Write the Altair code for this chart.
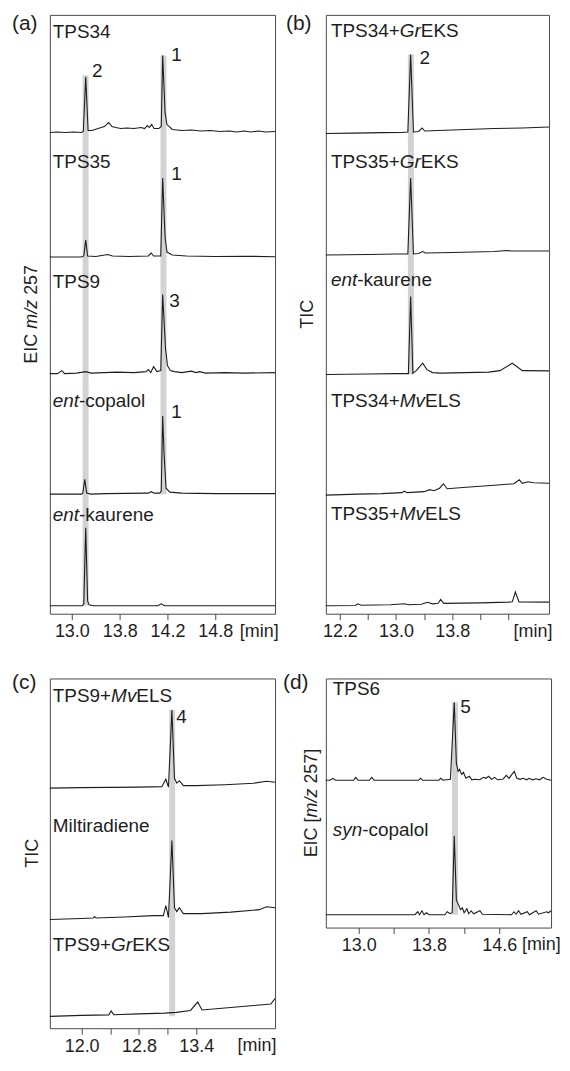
import altair as alt
import pandas as pd

# ---------------------------------------------------------------- data
# x values are positions on each panel's time axis, in tick units
# (tick k of a panel sits at x = k; its printed label is in the *_TICKS list)

# (a) EIC m/z 257
A_TICKS = ["13.0", "13.8", "14.2", "14.8"]
a_tps34 = [(-0.46, 0), (-0.3, 0.5), (-0.15, 0), (0.05, 0.5), (0.2, 0), (0.24, 1), (0.29, 56), (0.34, 2),
           (0.42, 2), (0.55, 4), (0.68, 6), (0.77, 10), (0.84, 6), (0.92, 5), (1.02, 4), (1.15, 4.5),
           (1.3, 4), (1.45, 5), (1.52, 4), (1.58, 7), (1.62, 5), (1.67, 8), (1.72, 4), (1.82, 4),
           (1.87, 6), (1.9, 78), (1.95, 20), (1.99, 8), (2.04, 6), (2.1, 3), (2.3, 2), (2.5, 2.5),
           (2.7, 1.5), (2.9, 2), (3.1, 1), (3.3, 1.5), (3.45, 0.5), (3.6, 1.5), (3.75, 0.5), (3.9, 1.5),
           (4.05, 0.5), (4.25, 1)]
a_tps35 = [(-0.46, 0), (0.0, 0), (0.2, 0), (0.25, 1), (0.29, 17), (0.33, 1), (0.5, 0.5), (0.75, 2.5),
           (0.85, 1), (1.2, 0.5), (1.6, 1), (1.66, 4), (1.71, 1), (1.86, 1), (1.9, 80), (1.95, 20),
           (1.99, 5), (2.1, 2), (2.4, 1), (3.0, 0.5), (3.6, 0.8), (4.25, 0.3)]
a_tps9 = [(-0.46, 0), (-0.3, 0), (-0.21, 3), (-0.15, 0), (0.1, 0.5), (0.29, 2), (0.4, 0.5), (0.94, 1.5),
          (1.3, 1), (1.55, 2), (1.6, 4), (1.65, 1), (1.71, 7), (1.78, 2), (1.86, 3), (1.9, 80),
          (1.96, 25), (2.0, 8), (2.06, 3), (2.15, 2), (2.3, 1), (2.5, 2.5), (2.6, 1), (2.67, 2),
          (2.8, 0.5), (3.2, 1), (3.6, 0.5), (4.25, 1)]
a_copalol = [(-0.46, 0), (0.2, 0), (0.23, 1), (0.27, 15), (0.31, 1), (0.4, 0), (0.7, 0.5), (1.6, 1),
             (1.66, 2.5), (1.72, 1), (1.84, 1), (1.87, 3), (1.9, 79), (1.93, 40), (1.97, 6), (2.05, 2),
             (2.3, 1), (3.0, 0.5), (4.25, 0.5)]
a_kaurene = [(-0.46, 0), (0.22, 0), (0.25, 2), (0.29, 79), (0.33, 5), (0.36, 1), (0.45, 0), (1.8, 0),
             (1.87, 2), (1.94, 0), (4.25, 0)]
a_names = ["TPS34", "TPS35", "TPS9", "_ent_-copalol", "_ent_-kaurene"]
a_series = [a_tps34, a_tps35, a_tps9, a_copalol, a_kaurene]
a_peak_ids = ["2", "1", "1", "3", "1"]
a_bands = [0.2875, 1.917]

# (b) TIC
B_TICKS = ["12.2", "", "13.0", "", "13.8", "", ""]
b_tps34_gr = [(-0.5, 0), (0.5, 0.3), (1.5, 0.8), (2.2, 1), (2.42, 1.5), (2.52, 80), (2.62, 1.5), (2.8, 2),
              (2.93, 5.5), (3.02, 2.5), (3.5, 3), (4.5, 4), (5.5, 5), (6.5, 5.5), (7.45, 6.5)]
b_tps35_gr = [(-0.5, 0), (1.0, 0.5), (2.0, 1), (2.42, 1), (2.52, 78), (2.62, 1), (2.8, 1.5), (2.95, 3.5),
              (3.05, 2), (4.0, 2.5), (5.5, 3.5), (5.95, 4.5), (6.1, 4), (7.45, 4)]
b_kaurene = [(-0.5, 0), (1.0, 0.5), (2.0, 1), (2.44, 1), (2.52, 79), (2.6, 1.5), (2.72, 4), (2.95, 11.5),
             (3.1, 5), (3.3, 2), (3.6, 1.5), (5.3, 2.5), (5.7, 4), (6.14, 11.5), (6.5, 4), (7.45, 3.7)]
b_tps34_mv = [(-0.5, 0), (0.64, 1), (1.5, 1.5), (2.2, 2.5), (2.3, 4), (2.4, 2.5), (3.0, 3.5), (3.2, 5.5),
              (3.35, 4.5), (3.55, 7), (3.69, 11.5), (3.82, 6.5), (4.5, 8), (5.5, 10), (6.2, 11.5),
              (6.39, 15.5), (6.5, 12), (6.7, 13.5), (6.9, 12.5), (7.45, 12)]
b_tps35_mv = [(-0.5, 0), (0.55, 0.3), (0.64, 2), (0.75, 0.5), (1.8, 1), (2.3, 2), (2.45, 1), (2.9, 1.5),
              (3.12, 3.5), (3.3, 2), (3.5, 2.5), (3.59, 6.5), (3.7, 2.5), (5.0, 3), (6.0, 3.7), (6.14, 4),
              (6.25, 14), (6.38, 4), (7.45, 3.7)]
b_names = ["TPS34+_Gr_EKS", "TPS35+_Gr_EKS", "_ent_-kaurene", "TPS34+_Mv_ELS", "TPS35+_Mv_ELS"]
b_series = [b_tps34_gr, b_tps35_gr, b_kaurene, b_tps34_mv, b_tps35_mv]
b_peak_ids = ["2"]
b_bands = [2.53]

# (c) TIC
C_TICKS = ["12.0", "", "12.8", "", "13.4"]
c_tps9_mv = [(-1.11, 0), (0.0, 0.5), (1.0, 0.8), (2.0, 1), (2.8, 1.5), (2.94, 9), (3.03, 1), (3.15, 79),
             (3.24, 10), (3.32, 5), (3.41, 7.5), (3.55, 2.5), (4.0, 2.5), (5.0, 3.5), (6.0, 5), (6.45, 7),
             (6.75, 6)]
c_miltiradiene = [(-1.11, 0), (0.0, 1), (0.4, 1.5), (0.45, 3), (0.5, 1.5), (1.5, 2.5), (2.5, 4), (2.85, 4),
                  (2.94, 14), (3.03, 2), (3.15, 80), (3.24, 12), (3.32, 8), (3.41, 12), (3.55, 6), (4.2, 6),
                  (5.2, 7.5), (6.2, 10), (6.45, 13), (6.75, 12)]
c_tps9_gr = [(-1.11, 0), (0.0, 1), (0.95, 1.5), (1.03, 5.5), (1.12, 1.7), (2.0, 2.5), (2.9, 3.3), (3.3, 4),
             (3.8, 6), (4.05, 14.5), (4.2, 6.5), (5.0, 8.5), (6.0, 11), (6.6, 12.5), (6.75, 18)]
c_names = ["TPS9+_Mv_ELS", "Miltiradiene", "TPS9+_Gr_EKS"]
c_series = [c_tps9_mv, c_miltiradiene, c_tps9_gr]
c_peak_ids = ["4"]
c_bands = [3.16]

# (d) EIC [m/z 257]
D_TICKS = ["13.0", "", "13.8", "", "14.6"]
d_tps6 = [(-0.936, 0), (-0.82, 0), (-0.74, 2), (-0.66, 0), (-0.15, 0), (-0.085, 3), (-0.02, 0), (0.3, 0),
          (0.37, 3), (0.44, 0), (1.7, 0), (1.76, 2), (1.82, 0), (2.28, 0), (2.33, 2), (2.4, 0), (2.61, 1),
          (2.72, 79), (2.78, 17), (2.83, 9), (2.87, 11), (2.93, 6), (2.98, 8), (3.05, 2), (3.15, 4),
          (3.22, 0.5), (3.3, 1), (3.45, 0.5), (3.55, 3), (3.62, 2), (3.7, 4), (3.78, 1), (3.87, 3),
          (3.95, 0.5), (4.1, 1), (4.2, 5), (4.28, 2), (4.36, 6), (4.43, 9), (4.5, 2), (4.6, 1), (4.68, 2),
          (4.78, 0.5), (4.85, 2), (4.95, 0.5), (5.05, 1.5), (5.15, 0.5), (5.25, 3), (5.35, 1), (5.475, 0)]
d_syn_copalol = [(-0.936, 0), (1.6, 0), (1.68, 3), (1.73, 0), (1.8, 4), (1.86, 0), (1.93, 2), (2.0, 0),
                 (2.45, 0), (2.52, 3), (2.6, 1), (2.66, 2), (2.72, 80), (2.78, 15), (2.84, 10), (2.9, 5),
                 (2.95, 7), (3.0, 2), (3.08, 6), (3.13, 1), (3.2, 4), (3.27, 1), (3.45, 4), (3.52, 0.5),
                 (4.35, 0), (4.42, 3), (4.48, 0.5), (4.55, 4), (4.62, 0.5), (4.8, 3), (4.86, 0), (5.05, 4),
                 (5.12, 0.5), (5.35, 3), (5.4, 2), (5.475, 4)]
d_names = ["TPS6", "_syn_-copalol"]
d_series = [d_tps6, d_syn_copalol]
d_peak_ids = ["5"]
d_bands = [2.74]

# ---------------------------------------------------------------- layout / style
FONT = "Liberation Sans"
INK = "#1e1e1e"
FRAME = "#4a4a4a"
BAND = "#d3d3d3"
LBL = 19
TICK = 18
TITLE = 18
LETTER = 21

W = {" ": 278, "(": 333, ")": 333, "+": 584, "-": 333, "/": 278, "[": 278, "]": 278,
     "C": 722, "E": 667, "G": 778, "I": 278, "K": 667, "L": 556, "M": 833, "P": 667, "R": 722,
     "S": 667, "T": 611, "a": 556, "b": 556, "c": 500, "d": 556, "e": 556, "i": 222, "k": 500,
     "l": 222, "m": 833, "n": 556, "o": 556, "p": 556, "r": 333, "s": 500, "t": 278, "u": 556,
     "v": 500, "y": 500, "z": 500}


def tw(s, size):
    return sum(W.get(c, 556) for c in s) * size / 1000.0


def segments(markup, size):
    out, off = [], 0.0
    for k, part in enumerate(markup.split("_")):
        if part == "":
            continue
        lead = len(part) - len(part.lstrip(" "))
        shown = part.strip(" ")
        if shown:
            out.append((shown, k % 2 == 1, off + tw(" " * lead, size)))
        off += tw(part, size)
    return out, off


PANELS = [
    dict(letter="(a)", ticks=A_TICKS, names=a_names, series=a_series, xdom=[-0.46, 4.25], w=226,
         h=601, ydom=606,
         offsets=[487, 361, 243, 121, 8], name_x=-0.40, name_y=[589, 457, 336, 215, 100],
         bands=[(a_bands[0], 545, 8), (a_bands[1], 565, 121)],
         peaks=[(a_peak_ids[0], 0.42, 549), (a_peak_ids[1], 2.08, 565), (a_peak_ids[2], 2.08, 445),
                (a_peak_ids[3], 2.04, 316), (a_peak_ids[4], 2.08, 204)],
         ytitle="EIC _m/z_ 257", ytitle_x=-17.5, letter_xy=(-38, 9), min_x=3.92),
    dict(letter="(b)", ticks=B_TICKS, names=b_names, series=b_series, xdom=[-0.5, 7.45], w=224,
         h=601, ydom=606,
         offsets=[486, 363, 242, 120, 8], name_x=-0.32, name_y=[590, 457, 338, 215, 101],
         bands=[(b_bands[0], 566, 242)], peaks=[(b_peak_ids[0], 2.84, 562)],
         ytitle="TIC", ytitle_x=-18, letter_xy=(-40, 9), min_x=6.88),
    dict(letter="(c)", ticks=C_TICKS, names=c_names, series=c_series, xdom=[-1.11, 6.75], w=226,
         h=351, ydom=354,
         offsets=[243, 110, 12], name_x=-1.01, name_y=[336, 205, 84],
         bands=[(c_bands[0], 322, 12)], peaks=[(c_peak_ids[0], 3.30, 315)],
         ytitle="TIC", ytitle_x=-17, letter_xy=(-38, 5), min_x=6.12),
    dict(letter="(d)", ticks=D_TICKS, names=d_names, series=d_series, xdom=[-0.936, 5.475], w=226,
         h=250, ydom=252,
         offsets=[149, 13], name_x=-0.74, name_y=[241, 99],
         bands=[(d_bands[0], 228, 13)], peaks=[(d_peak_ids[0], 2.89, 223)],
         ytitle="EIC [_m/z_ 257]", ytitle_x=-14, letter_xy=(-43, 5), min_x=5.2),
]


def build(p):
    xs = alt.Scale(domain=p["xdom"], nice=False, zero=False)
    ys = alt.Scale(domain=[0, p["ydom"]], nice=False, zero=False)

    labels = p["ticks"]
    expr = "[" + ",".join("'%s'" % s for s in labels) + "][datum.value]"
    axis = alt.Axis(values=list(range(len(labels))), labelExpr=expr, title=None, grid=False,
                    domain=False, ticks=True, tickSize=6, tickColor=FRAME, tickWidth=1,
                    labelFont=FONT, labelFontSize=TICK, labelColor=INK, labelPadding=3,
                    labelOverlap=False, labelFlush=False, labelBound=False)

    def X(f):
        return alt.X(f, scale=xs, axis=axis)

    def Y(f):
        return alt.Y(f, scale=ys, axis=None)

    rows = []
    for name, pts, off in zip(p["names"], p["series"], p["offsets"]):
        for t, v in pts:
            rows.append({"trace": name, "t": t, "v": off + v})
    df = pd.DataFrame(rows)

    bdf = pd.DataFrame(p["bands"], columns=["x", "y1", "y2"])
    band = alt.Chart(bdf).mark_rule(color=BAND, strokeWidth=6).encode(
        x=X("x:Q"), y=Y("y1:Q"), y2="y2:Q")

    lines = alt.Chart(df).mark_line(color=INK, strokeWidth=1.1).encode(
        x=X("t:Q"), y=Y("v:Q"), detail="trace:N")

    pdf = pd.DataFrame(p["peaks"], columns=["s", "x", "y"])
    peaks = alt.Chart(pdf).mark_text(align="left", baseline="middle", font=FONT, fontSize=LBL,
                                     color=INK).encode(x=X("x:Q"), y=Y("y:Q"), text="s:N")

    layers = [band, lines, peaks]

    for markup, ny in zip(p["names"], p["name_y"]):
        segs, _ = segments(markup, LBL)
        for shown, ital, dx in segs:
            sdf = pd.DataFrame({"x": [p["name_x"]], "y": [ny], "s": [shown]})
            layers.append(alt.Chart(sdf).mark_text(
                align="left", baseline="middle", dx=dx, font=FONT, fontSize=LBL,
                fontStyle="italic" if ital else "normal", color=INK).encode(
                x=X("x:Q"), y=Y("y:Q"), text="s:N"))

    segs, total = segments(p["ytitle"], TITLE)
    y0 = p["h"] / 2 + total / 2
    for shown, ital, dx in segs:
        layers.append(alt.Chart(pd.DataFrame({"s": [shown]})).mark_text(
            align="left", baseline="middle", angle=270, dx=dx, font=FONT, fontSize=TITLE,
            fontStyle="italic" if ital else "normal", color=INK).encode(
            x=alt.value(p["ytitle_x"]), y=alt.value(y0), text="s:N"))

    lx, ly = p["letter_xy"]
    layers.append(alt.Chart(pd.DataFrame({"s": [p["letter"]]})).mark_text(
        align="left", baseline="middle", font=FONT, fontSize=LETTER, color=INK).encode(
        x=alt.value(lx), y=alt.value(ly), text="s:N"))

    layers.append(alt.Chart(pd.DataFrame({"x": [p["min_x"]], "s": ["[min]"]})).mark_text(
        align="center", baseline="top", font=FONT, fontSize=TICK, color=INK).encode(
        x=X("x:Q"), y=alt.value(p["h"] + 9), text="s:N"))

    return alt.layer(*layers).properties(width=p["w"], height=p["h"])


charts = [build(p) for p in PANELS]

chart = alt.concat(
    *charts, columns=2, spacing={"row": 65, "column": 51}, bounds="flush"
).configure_view(
    stroke=FRAME, strokeWidth=1
).properties(
    padding={"left": 3, "top": 2, "right": 0, "bottom": 0}
)

chart.save("out.html", embed_options={"renderer": "svg", "actions": False})
